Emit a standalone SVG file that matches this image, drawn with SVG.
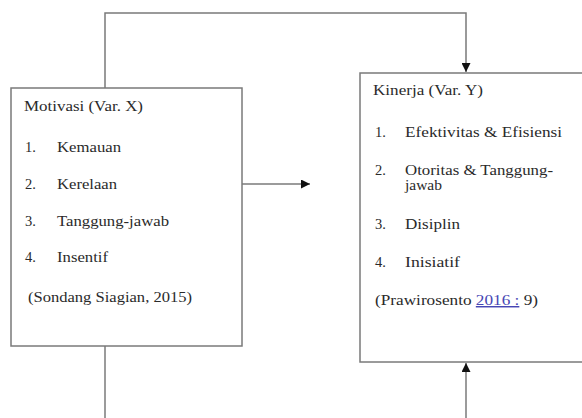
<svg xmlns="http://www.w3.org/2000/svg" width="582" height="418" viewBox="0 0 582 418">
<defs>
<marker id="ah" viewBox="0 0 10 10" refX="10" refY="5" markerWidth="9" markerHeight="9" markerUnits="userSpaceOnUse" orient="auto">
<path d="M0,0 L10,5 L0,10 Z" fill="#111"/>
</marker>
<style>
.box{fill:#fff;stroke:#7a7a7a;stroke-width:1.5}
.ln{fill:none;stroke:#7a7a7a;stroke-width:1.5}
text{font-family:"Liberation Serif","Times New Roman",serif;font-size:14.5px;fill:#2a2a2a}
.lnk{fill:#4646b4;text-decoration:underline}
</style>
</defs>
<rect width="582" height="418" fill="#fff"/>
<g id="connectors">
<path class="ln" d="M105,88 V13 H466 V72" marker-end="url(#ah)"/>
<path class="ln" d="M242,184 H310" marker-end="url(#ah)"/>
<path class="ln" d="M466,418 V363" marker-end="url(#ah)"/>
<path class="ln" d="M105,346 V418"/>
</g>
<g id="motivasi">
<rect class="box" x="11" y="88" width="231" height="258"/>
<text x="24" y="111" textLength="119" lengthAdjust="spacingAndGlyphs">Motivasi (Var. X)</text>
<text x="25" y="152">1.</text>
<text x="57" y="152" textLength="64" lengthAdjust="spacingAndGlyphs">Kemauan</text>
<text x="25" y="189">2.</text>
<text x="57" y="189" textLength="60" lengthAdjust="spacingAndGlyphs">Kerelaan</text>
<text x="25" y="226">3.</text>
<text x="57" y="226" textLength="112" lengthAdjust="spacingAndGlyphs">Tanggung-jawab</text>
<text x="25" y="262">4.</text>
<text x="57" y="262" textLength="51" lengthAdjust="spacingAndGlyphs">Insentif</text>
<text x="28" y="302" textLength="164" lengthAdjust="spacingAndGlyphs">(Sondang Siagian, 2015)</text>
</g>
<g id="kinerja">
<rect class="box" x="360" y="73" width="240" height="289"/>
<text x="373" y="95" textLength="110" lengthAdjust="spacingAndGlyphs">Kinerja (Var. Y)</text>
<text x="375" y="137">1.</text>
<text x="405" y="137" textLength="157" lengthAdjust="spacingAndGlyphs">Efektivitas &amp; Efisiensi</text>
<text x="375" y="175">2.</text>
<text x="405" y="175" textLength="148" lengthAdjust="spacingAndGlyphs">Otoritas &amp; Tanggung-</text>
<text x="405" y="190" textLength="37" lengthAdjust="spacingAndGlyphs">jawab</text>
<text x="375" y="229">3.</text>
<text x="405" y="229" textLength="55" lengthAdjust="spacingAndGlyphs">Disiplin</text>
<text x="375" y="267">4.</text>
<text x="405" y="267" textLength="55" lengthAdjust="spacingAndGlyphs">Inisiatif</text>
<text x="375" y="305" textLength="163" lengthAdjust="spacingAndGlyphs">(Prawirosento <tspan class="lnk">2016 :</tspan> 9)</text>
</g>
</svg>
